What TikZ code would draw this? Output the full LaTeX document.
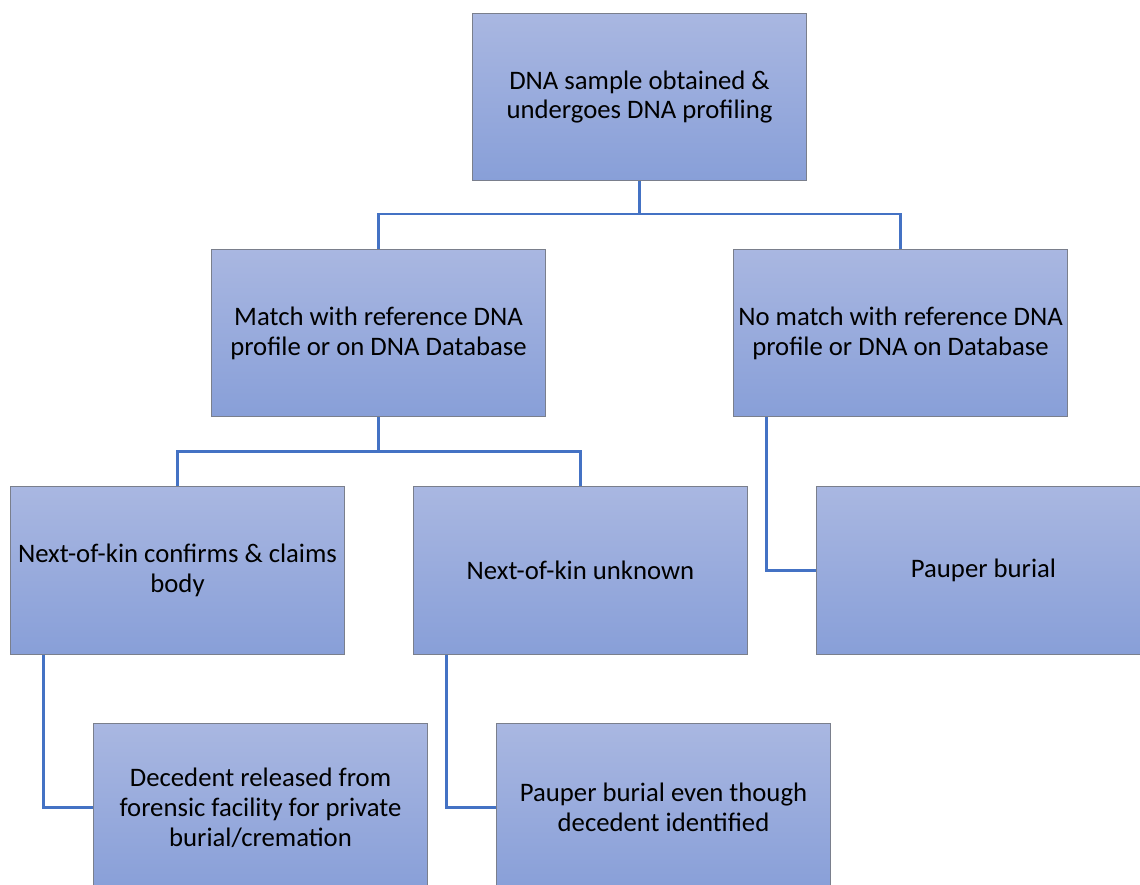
\documentclass[tikz,border=0pt]{standalone}
\usepackage{fontspec}
\setmainfont{Carlito}
\usepackage{tikz}
\usetikzlibrary{calc}

\definecolor{boxtop}{HTML}{A9B7E1}
\definecolor{boxbot}{HTML}{889FD8}
\definecolor{boxline}{HTML}{7A7F8C}
\definecolor{linkblue}{HTML}{4472C4}

\tikzset{
  stepbox/.style={draw=boxline,line width=0.7pt,top color=boxtop,bottom color=boxbot,
    minimum width=8.325cm,minimum height=4.175cm,align=center,inner sep=0pt,
    font=\fontsize{19}{21.3}\selectfont},
  link/.style={draw=linkblue,line width=1.6pt}
}

\begin{document}
\begin{tikzpicture}[x=0.025cm,y=-0.025cm]
      \fill[white] (0,0) rectangle (1140,885);
      \useasboundingbox (0,0) rectangle (1140,885);
      % boxes
      \node[stepbox] (top) at (639.5,97) {DNA sample obtained \&\\undergoes DNA profiling};
      \node[stepbox] (match) at (378.5,333) {Match with reference DNA\\profile or on DNA Database};
      \node[stepbox] (nomatch) at (900.5,333) {No match with reference DNA\\profile or DNA on Database};
      \node[stepbox] (kin) at (177.5,570.5) {Next-of-kin confirms \& claims\\body};
      \node[stepbox] (unknown) at (580.5,570.5) {Next-of-kin unknown};
      \node[stepbox] (pauper) at (983.5,570.5) {Pauper burial};
      \node[stepbox] (released) at (260.5,807.5) {Decedent released from\\forensic facility for private\\burial/cremation};
      \node[stepbox] (identified) at (663.5,807.5) {Pauper burial even though\\decedent identified};
      % connectors
      \draw[link] (top.south) -- ++(0,34);
      \draw[link] (match.north) -- ++(0,-35) -| (nomatch.north);
      \draw[link] (match.south) -- ++(0,36);
      \draw[link] (kin.north) -- ++(0,-35) -| (unknown.north);
      \draw[link] ($(nomatch.south west)+(33,0)$) |- (pauper.west);
      \draw[link] ($(kin.south west)+(33,0)$) |- (released.west);
      \draw[link] ($(unknown.south west)+(33,0)$) |- (identified.west);
    \end{tikzpicture}
\end{document}
